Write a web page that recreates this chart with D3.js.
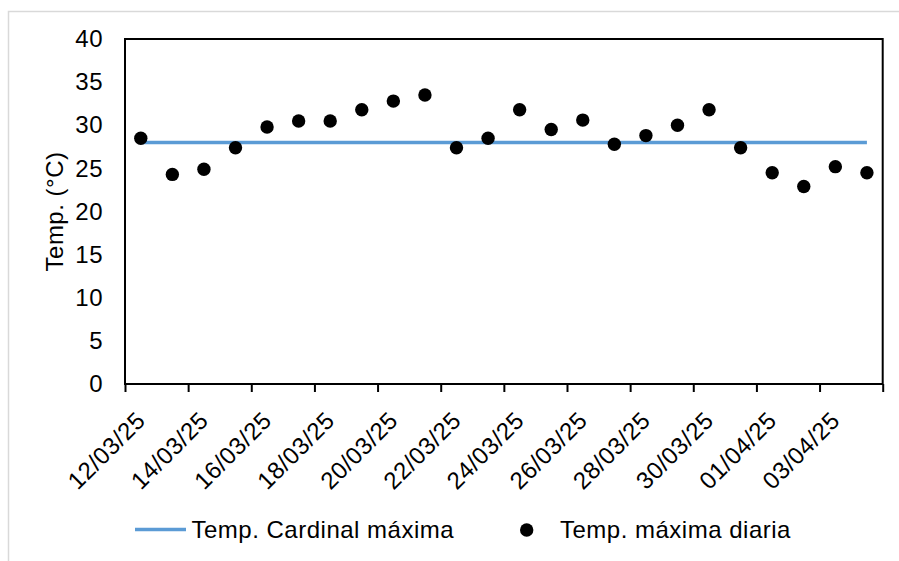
<!DOCTYPE html>
<html>
<head>
<meta charset="utf-8">
<script src="https://cdn.jsdelivr.net/npm/d3@7/dist/d3.min.js"></script>
<style>
  html, body { margin: 0; padding: 0; background: #ffffff; }
  svg { display: block; font-family: "Liberation Sans", Arial, sans-serif; }
</style>
</head>
<body>
<svg id="chart" width="899" height="561"></svg>
<script>
// ---- Data ----
const dates = [
  "2025-03-12","2025-03-13","2025-03-14","2025-03-15","2025-03-16","2025-03-17",
  "2025-03-18","2025-03-19","2025-03-20","2025-03-21","2025-03-22","2025-03-23",
  "2025-03-24","2025-03-25","2025-03-26","2025-03-27","2025-03-28","2025-03-29",
  "2025-03-30","2025-03-31","2025-04-01","2025-04-02","2025-04-03","2025-04-04"
];
const tempMaxDiaria = [
  28.5, 24.3, 24.9, 27.4, 29.8, 30.5,
  30.5, 31.8, 32.8, 33.5, 27.4, 28.5,
  31.8, 29.5, 30.6, 27.8, 28.8, 30.0,
  31.8, 27.4, 24.5, 22.9, 25.2, 24.5
];
const tempCardinalMaxima = 28;
const xDomain = ["2025-03-12", "2025-04-05"];
const xTickDates = [
  "2025-03-12","2025-03-14","2025-03-16","2025-03-18","2025-03-20","2025-03-22",
  "2025-03-24","2025-03-26","2025-03-28","2025-03-30","2025-04-01","2025-04-03","2025-04-05"
];
const xTickLabels = [
  "12/03/25","14/03/25","16/03/25","18/03/25","20/03/25","22/03/25",
  "24/03/25","26/03/25","28/03/25","30/03/25","01/04/25","03/04/25",""
];
const yTicks = [0, 5, 10, 15, 20, 25, 30, 35, 40];
const seriesNames = ["Temp. Cardinal máxima", "Temp. máxima diaria"];

// ---- Layout ----
const svg = d3.select("#chart");
const L = 125, R = 882.7, T = 39, B = 384;
const parse = d3.utcParse("%Y-%m-%d");
const x = d3.scaleUtc().domain(xDomain.map(parse)).range([L, R]);
const y = d3.scaleLinear().domain([0, 40]).range([B, T]);
const mid = d => d3.utcHour.offset(parse(d), 12);
const blue = "#5B9BD5";
const font = 24;

// outer frame (light gray)
svg.append("path")
  .attr("d", `M8.5,561 L8.5,11.5 L899,11.5`)
  .attr("fill", "none").attr("stroke", "#d9d9d9").attr("stroke-width", 1.5);

// plot border
svg.append("rect")
  .attr("x", L).attr("y", T).attr("width", R - L).attr("height", B - T)
  .attr("fill", "none").attr("stroke", "#000").attr("stroke-width", 2);

// y axis labels
const yAxis = d3.axisLeft(y).tickValues(yTicks).tickSize(0).tickPadding(22);
const gy = svg.append("g").attr("transform", `translate(${L},0)`).call(yAxis);
gy.select(".domain").remove();
gy.selectAll("text").attr("font-size", font).attr("letter-spacing", 0.5)
  .attr("font-family", "Liberation Sans, Arial, sans-serif").attr("fill", "#000");

// x axis ticks
const xAxis = d3.axisBottom(x).tickValues(xTickDates.map(parse)).tickSize(8).tickFormat("");
const gx = svg.append("g").attr("transform", `translate(0,${B})`).call(xAxis);
gx.select(".domain").remove();
gx.selectAll("line").attr("stroke", "#000").attr("stroke-width", 2);

// x labels (rotated, centred on the day)
svg.append("g").selectAll("text")
  .data(xTickDates.map((d, i) => ({d, label: xTickLabels[i]})).filter(o => o.label))
  .join("text")
  .attr("transform", o => `translate(${x(mid(o.d))},416) rotate(-45)`)
  .attr("text-anchor", "end")
  .attr("dy", "0.35em")
  .attr("font-size", font)
  .attr("letter-spacing", 0.5)
  .attr("fill", "#000")
  .text(o => o.label);

// y title
svg.append("text")
  .attr("transform", `translate(63,${(T + B) / 2}) rotate(-90)`)
  .attr("text-anchor", "middle")
  .attr("font-size", 24)
  .attr("letter-spacing", 0.5)
  .attr("fill", "#000")
  .text("Temp. (°C)");

// cardinal line
svg.append("line")
  .attr("x1", x(mid(dates[0]))).attr("x2", x(mid(dates[dates.length - 1])))
  .attr("y1", y(tempCardinalMaxima)).attr("y2", y(tempCardinalMaxima))
  .attr("stroke", blue).attr("stroke-width", 3.5);

// daily max points
svg.append("g").selectAll("circle")
  .data(dates.map((d, i) => ({d, v: tempMaxDiaria[i]})))
  .join("circle")
  .attr("cx", o => x(mid(o.d)))
  .attr("cy", o => y(o.v))
  .attr("r", 6.7)
  .attr("fill", "#000");

// legend
const leg = svg.append("g");
leg.append("line").attr("x1", 135).attr("x2", 186).attr("y1", 529.5).attr("y2", 529.5)
  .attr("stroke", blue).attr("stroke-width", 3.5);
leg.append("text").attr("x", 191.5).attr("y", 538.3)
  .attr("font-size", font).attr("letter-spacing", 0.5).attr("fill", "#000")
  .text(seriesNames[0]);
leg.append("circle").attr("cx", 526.7).attr("cy", 530).attr("r", 6.7).attr("fill", "#000");
leg.append("text").attr("x", 560).attr("y", 538.3)
  .attr("font-size", font).attr("letter-spacing", 0.5).attr("fill", "#000")
  .text(seriesNames[1]);
</script>
</body>
</html>
